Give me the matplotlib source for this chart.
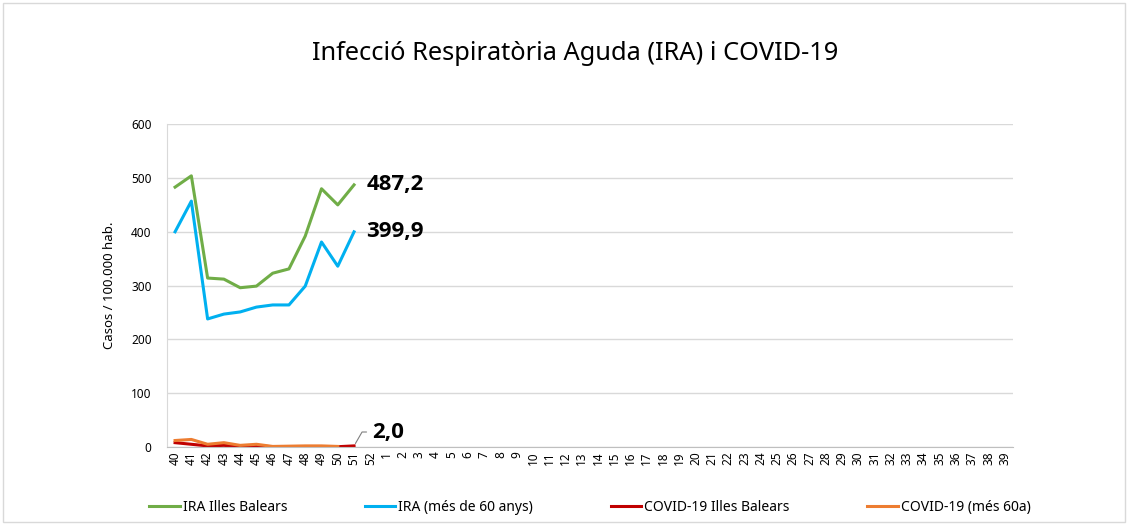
import matplotlib.pyplot as plt
from matplotlib.patches import Rectangle

plt.rcParams['font.family'] = ['Noto Sans', 'DejaVu Sans']

# setmanes epidemiologiques (40..52, 1..39)
weeks = [str(w) for w in range(40, 53)] + [str(w) for w in range(1, 40)]

# valors llegits del grafic (casos / 100.000 hab.)
ira_balears = [483, 504, 314, 312, 296, 299, 323, 331, 392, 480, 450, 487.2]
ira_60 = [400, 457, 238, 247, 251, 260, 264, 264, 299, 381, 336, 399.9]
covid_balears = [8, 5, 2, 3, 1, 2, 0.5, 0.5, 0.5, 0.5, 0.5, 2.0]
covid_60 = [12, 14, 5, 8, 3, 5, 1, 1.5, 2, 2, 1]

labels = ["IRA Illes Balears", "IRA (més de 60 anys)",
          "COVID-19 Illes Balears", "COVID-19 (més 60a)"]
colors = ["#70AD47", "#00B0F0", "#C00000", "#ED7D31"]

fig = plt.figure(figsize=(11.28, 5.24), dpi=100)
ax = fig.add_axes([0.148, 0.147, 0.75, 0.616])

fig.patches.append(Rectangle((0.003, 0.004), 0.994, 0.99, transform=fig.transFigure,
                             fill=False, edgecolor="#D9D9D9", linewidth=1))

x = list(range(len(weeks)))
ax.plot(x[:len(ira_balears)], ira_balears, color=colors[0], lw=2.2, label=labels[0])
ax.plot(x[:len(ira_60)], ira_60, color=colors[1], lw=2.2, label=labels[1])
ax.plot(x[:len(covid_balears)], covid_balears, color=colors[2], lw=2.2, label=labels[2])
ax.plot(x[:len(covid_60)], covid_60, color=colors[3], lw=2.2, label=labels[3])

ax.set_xlim(-0.5, len(weeks) - 0.5)
ax.set_ylim(0, 600)
ax.set_yticks(range(0, 601, 100))
ax.set_xticks(x)
ax.set_xticklabels(weeks, rotation=90, fontsize=8.5)
ax.tick_params(axis='y', labelsize=8.5, length=0, pad=11)
ax.tick_params(axis='x', length=0, pad=3)
ax.grid(axis='y', color="#D9D9D9", lw=1)
ax.set_axisbelow(True)
for s in ['top', 'right']:
    ax.spines[s].set_visible(False)
ax.spines['left'].set_color("#D9D9D9")
ax.spines['bottom'].set_color("#BFBFBF")
ax.set_ylabel("Casos / 100.000 hab.", fontsize=9.5, labelpad=11)

ax.set_title("Infecció Respiratòria Aguda (IRA) i COVID-19", fontsize=18.3, pad=46, x=0.482)

bold = ['Open Sans', 'DejaVu Sans']
last = len(ira_balears) - 1
ax.annotate("487,2", (last, ira_balears[-1]), xytext=(9, 0), textcoords='offset points',
            fontsize=16, fontweight='bold', family=bold, va='center')
ax.annotate("399,9", (last, ira_60[-1]), xytext=(9, 0), textcoords='offset points',
            fontsize=16, fontweight='bold', family=bold, va='center')
ax.annotate("2,0", (last, covid_balears[-1]), xytext=(13, 10), textcoords='offset points',
            fontsize=16, fontweight='bold', family=bold, va='center',
            arrowprops=dict(arrowstyle='-', color='#7F7F7F', lw=0.8,
                            connectionstyle='angle,angleA=0,angleB=60,rad=0'))

fig.legend(loc='center', bbox_to_anchor=(0.523, 0.032), ncol=4, frameon=False,
           fontsize=10, handlelength=2.2, columnspacing=5.6, handletextpad=0.2)

fig.savefig("out.png", dpi=100)
